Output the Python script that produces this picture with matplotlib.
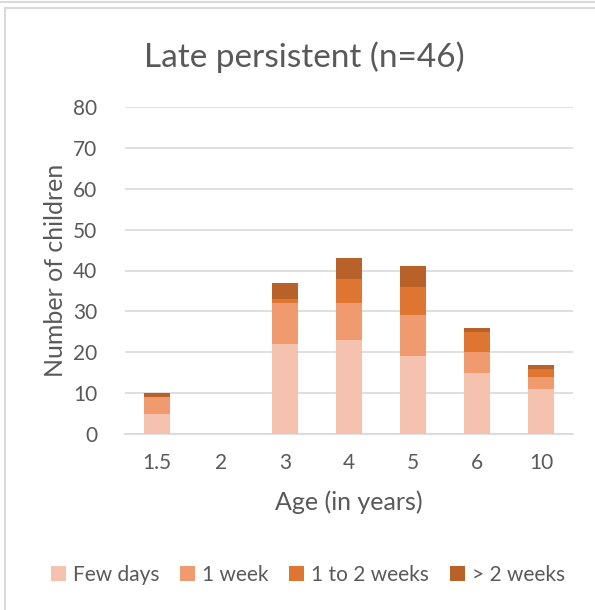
import numpy as np
import matplotlib.pyplot as plt
from matplotlib.lines import Line2D

# Data
ages = ['1.5', '2', '3', '4', '5', '6', '10']
few_days = [5, 0, 22, 23, 19, 15, 11]
one_week = [4, 0, 10, 9, 10, 5, 3]
one_to_two = [0, 0, 1, 6, 7, 5, 2]
over_two = [1, 0, 4, 5, 5, 1, 1]

series_names = ['Few days', '1 week', '1 to 2 weeks', '> 2 weeks']
colors = ['#F4C2AF', '#F09A6F', '#DE7530', '#B8622A']

plt.rcParams['font.family'] = ['Lato', 'DejaVu Sans']
text_col = '#595959'
W, H = 595, 610

fig = plt.figure(figsize=(W / 100, H / 100), dpi=100)
ax = fig.add_axes([125/W, 1 - 434/H, 448/W, (434 - 107)/H])

# chart frame (only top/left edges fall inside the picture)
border = '#D9D9D9'
fig.add_artist(Line2D([0, 1], [1 - 2/H, 1 - 2/H], transform=fig.transFigure, color=border, lw=1.5))
fig.add_artist(Line2D([5/W, 1], [1 - 8/H, 1 - 8/H], transform=fig.transFigure, color=border, lw=1.5))
fig.add_artist(Line2D([5/W, 5/W], [0, 1 - 8/H], transform=fig.transFigure, color=border, lw=1.5))

x = np.arange(len(ages))
width = 0.4
bottom = np.zeros(len(ages))
handles = []
for vals, name, c in zip([few_days, one_week, one_to_two, over_two], series_names, colors):
    b = ax.bar(x, vals, width, bottom=bottom, color=c, label=name, zorder=3, linewidth=0)
    handles.append(b)
    bottom += np.array(vals)

ax.set_ylim(0, 80)
ax.set_xlim(-0.5, len(ages) - 0.5)
ax.set_yticks(np.arange(0, 81, 10))
ax.set_xticks(x)
ax.set_xticklabels(ages)
ax.yaxis.grid(True, color=border, linewidth=1.2, zorder=0)
ax.set_axisbelow(True)
for s in ['top', 'right', 'left']:
    ax.spines[s].set_visible(False)
ax.spines['bottom'].set_color(border)
ax.spines['bottom'].set_linewidth(1.2)
ax.tick_params(length=0, labelsize=15, colors=text_col)
ax.tick_params(axis='y', pad=20)
ax.tick_params(axis='x', pad=14)

ax.set_ylabel('Number of children', fontsize=18, color=text_col, labelpad=4)
ax.set_xlabel('Age (in years)', fontsize=18, color=text_col, labelpad=12)
fig.text(304/W, 1 - 57/H, 'Late persistent (n=46)', fontsize=24, color=text_col,
         ha='center', va='center')

fig.legend(handles=handles, labels=series_names, loc='center', bbox_to_anchor=(308/W, 1 - 575/H),
           ncol=4, frameon=False, fontsize=15, labelcolor=text_col, handlelength=0.7,
           handleheight=0.7, handletextpad=0.35, columnspacing=1.0)

fig.savefig('out.png', dpi=100)
